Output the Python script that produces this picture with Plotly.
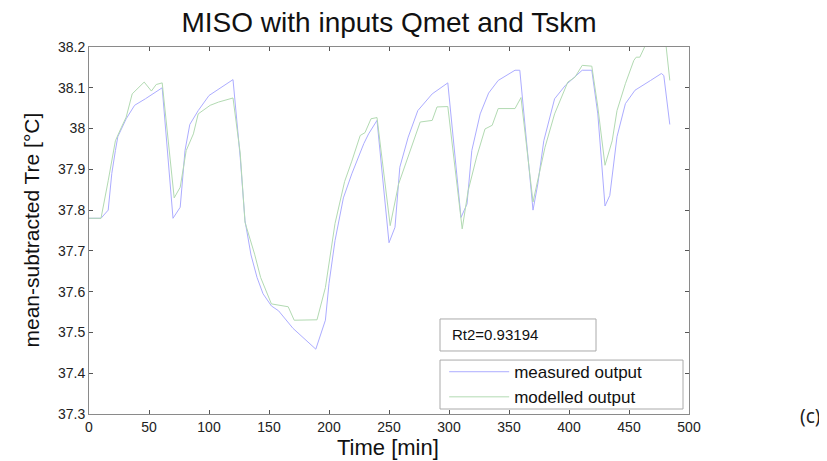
import plotly.graph_objects as go

# ---- data ----
t_measured = [0, 10, 16, 19, 22, 24, 31, 38, 47, 61, 70, 76, 80, 84, 91, 100, 120, 126, 130,
              135, 140, 145, 152, 158, 170, 189, 197, 200, 205, 212, 219, 229, 233, 240, 250,
              255, 259, 266, 274, 286, 299, 310, 315, 319, 326, 333, 341, 355, 359, 370, 374,
              379, 388, 397, 411, 419, 424, 430, 434, 440, 447, 455, 468, 477, 479, 484]
y_measured = [37.78, 37.78, 37.80, 37.89, 37.946, 37.98, 38.024, 38.057, 38.073, 38.10, 37.78,
              37.807, 37.946, 38.01, 38.044, 38.081, 38.12, 37.93, 37.774,
              37.69, 37.635, 37.595, 37.565, 37.553, 37.51, 37.459, 37.53, 37.62, 37.725, 37.83,
              37.889, 37.963, 37.987, 38.02, 37.72,
              37.758, 37.905, 37.979, 38.044, 38.085, 38.112, 37.782, 37.815, 37.946, 38.036,
              38.087, 38.118, 38.143, 38.143, 37.80, 37.864,
              37.97, 38.073, 38.106, 38.143, 38.143, 38.036, 37.81, 37.836, 37.98, 38.061,
              38.094, 38.118, 38.135, 38.13, 38.01]

t_modelled = [0, 10, 16, 22, 27, 31, 36, 41, 46, 52, 56, 61, 71, 76, 81, 87, 91, 101, 108, 120,
              126, 130, 134, 138, 143, 152, 166, 171, 190, 197, 205, 213, 219, 226, 230, 235,
              240, 251, 258, 266, 276, 286, 290, 299, 311, 316, 323, 330, 336, 341, 355, 360,
              370, 380, 388, 399, 405, 411, 419, 424, 430, 436, 440, 447, 454, 456, 459, 463,
              470, 476, 481, 484]
y_modelled = [37.78, 37.78, 37.872, 37.97, 38.003, 38.028, 38.085, 38.10, 38.114, 38.092,
              38.108, 38.112, 37.83, 37.856, 37.946, 37.987, 38.036, 38.057, 38.065, 38.075,
              37.94, 37.77, 37.733, 37.692, 37.635, 37.57, 37.563, 37.53, 37.531, 37.61, 37.767,
              37.87, 37.92, 37.983, 37.99, 38.024,
              38.027, 37.762, 37.864, 37.93, 38.016, 38.02, 38.053, 38.054, 37.754, 37.848,
              37.93, 37.999, 38.008, 38.049, 38.049, 38.076,
              37.82, 37.954, 38.036, 38.114, 38.126, 38.155, 38.153, 38.053, 37.91, 37.97,
              38.044, 38.11, 38.167, 38.175, 38.175, 38.2,
              38.23, 38.25, 38.2, 38.118]

x_ticks = [0, 50, 100, 150, 200, 250, 300, 350, 400, 450, 500]
x_tick_labels = ["0", "50", "100", "150", "200", "250", "300", "350", "400", "450", "500"]
y_ticks = [37.3, 37.4, 37.5, 37.6, 37.7, 37.8, 37.9, 38.0, 38.1, 38.2]
y_tick_labels = ["37.3", "37.4", "37.5", "37.6", "37.7", "37.8", "37.9", "38", "38.1", "38.2"]

title_text = "MISO with inputs Qmet and Tskm"
x_label = "Time [min]"
y_label = "mean-subtracted Tre [°C]"
fit_text = "Rt2=0.93194"
panel_label = "(c)"

FONT = "Liberation Sans, Arial, Helvetica, sans-serif"

# the page body adds an 8px offset; the figure is sized/placed to compensate
OFF = 8
W, H = 827 - OFF, 461 - OFF
L, R, T, B = 89 - OFF, 138, 47 - OFF, 47
PW, PH = W - L - R, H - T - B   # 600 x 367

fig = go.Figure()
fig.add_trace(go.Scatter(x=t_measured, y=y_measured, mode="lines", name="measured output",
                         line=dict(color="rgb(172,172,255)", width=1)))
fig.add_trace(go.Scatter(x=t_modelled, y=y_modelled, mode="lines", name="modelled output",
                         line=dict(color="rgb(178,218,178)", width=1)))

axis_common = dict(showline=True, linecolor="#8a8a8a", linewidth=1, mirror="allticks",
                   ticks="inside", ticklen=4, tickcolor="#555", tickwidth=1,
                   showgrid=False, zeroline=False,
                   tickfont=dict(family=FONT, size=14, color="#222"))

fig.update_layout(
    width=W, height=H,
    margin=dict(l=L, r=R, t=T, b=B, pad=0),
    paper_bgcolor="white", plot_bgcolor="white",
    title=dict(text=title_text, x=(389 - OFF) / W, xanchor="center", y=1 - (22 - OFF) / H,
               yanchor="middle", font=dict(family=FONT, size=28, color="#111")),
    xaxis=dict(range=[0, 500], tickvals=x_ticks, ticktext=x_tick_labels, **axis_common),
    yaxis=dict(range=[37.3, 38.2], tickvals=y_ticks, ticktext=y_tick_labels, **axis_common),
    showlegend=True,
    legend=dict(x=0.592, y=0.163, xanchor="left", yanchor="top",
                bgcolor="rgba(0,0,0,0)", borderwidth=0, itemwidth=60,
                font=dict(family=FONT, size=17, color="#111"), tracegroupgap=0),
)

# axis titles
fig.add_annotation(text=y_label, xref="paper", yref="paper", x=0, y=0.5, xanchor="center",
                   yanchor="middle", xshift=-58, textangle=-90, showarrow=False,
                   font=dict(family=FONT, size=21, color="#111"))
fig.add_annotation(text=x_label, xref="paper", yref="paper", x=0.4975, y=0, xanchor="center",
                   yanchor="middle", yshift=-33, showarrow=False,
                   font=dict(family=FONT, size=22, color="#111"))

# fit box
fig.add_shape(type="rect", xref="paper", yref="paper", x0=0.585, x1=0.845, y0=0.1717, y1=0.2589,
              line=dict(color="#aaaaaa", width=1), fillcolor="white", layer="below")
fig.add_annotation(text=fit_text, xref="paper", yref="paper", x=0.6017, y=0.2153,
                   xanchor="left", yanchor="middle", showarrow=False,
                   font=dict(family=FONT, size=15, color="#111"))

# legend box
fig.add_shape(type="rect", xref="paper", yref="paper", x0=0.585, x1=0.99, y0=0.0136, y1=0.147,
              line=dict(color="#aaaaaa", width=1), fillcolor="white", layer="below")

# panel label
fig.add_annotation(text=panel_label, xref="paper", yref="paper", x=(810 - 89) / PW, y=0,
                   xanchor="center", yanchor="middle", yshift=-2, showarrow=False,
                   font=dict(family="Noto Sans, sans-serif", size=19, color="#222"))

fig.write_html("out.html")
